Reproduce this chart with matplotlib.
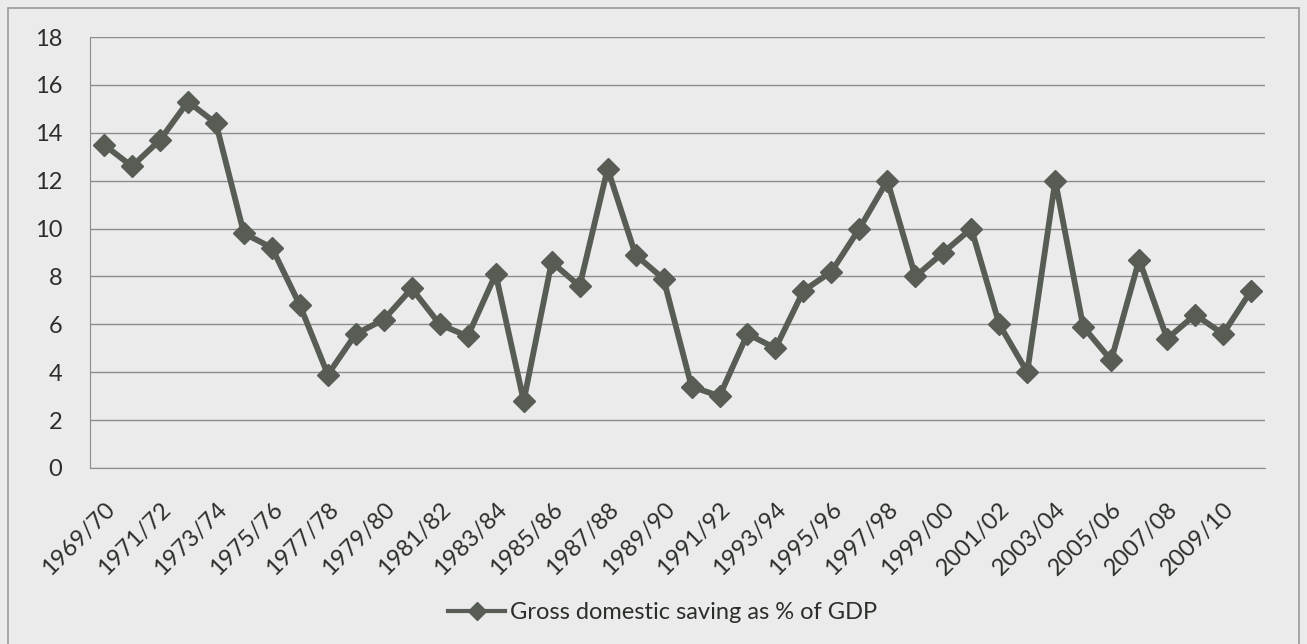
import matplotlib.pyplot as plt
from matplotlib.patches import Rectangle

# fiscal years 1969/70 .. 2010/11
years = ["%d/%02d" % (y, (y + 1) % 100) for y in range(1969, 2011)]
saving = [13.5, 12.6, 13.7, 15.3, 14.4, 9.8, 9.2, 6.8, 3.9, 5.6,
          6.2, 7.5, 6.0, 5.5, 8.1, 2.8, 8.6, 7.6, 12.5, 8.9,
          7.9, 3.4, 3.0, 5.6, 5.0, 7.4, 8.2, 10.0, 12.0, 8.0,
          9.0, 10.0, 6.0, 4.0, 12.0, 5.9, 4.5, 8.7, 5.4, 6.4,
          5.6, 7.4]
series_name = "Gross domestic saving as % of GDP"

plt.rcParams['font.family'] = ['Lato', 'DejaVu Sans']
bg = '#ebebeb'
txt = '#2b2f29'
line_col = '#575c55'

fig = plt.figure(figsize=(13.07, 6.44), dpi=100, facecolor=bg)
ax = fig.add_axes([0.0689, 0.2733, 0.8990, 0.6692], facecolor=bg)

x = list(range(len(years)))
ax.plot(x, saving, color=line_col, lw=4.2, marker='D', markersize=11.5,
        markerfacecolor=line_col, markeredgecolor=line_col, label=series_name)

ax.set_xlim(-0.5, len(years) - 0.5)
ax.set_ylim(0, 18)
ax.set_yticks(range(0, 19, 2))
ax.yaxis.grid(True, color='#8c8c8c', lw=1.0)
ax.set_axisbelow(True)
ax.set_xticks(x[::2])
ax.set_xticklabels(years[::2], rotation=45, ha='right', rotation_mode='anchor')
ax.tick_params(axis='both', length=0, labelsize=17, colors=txt)
ax.tick_params(axis='y', pad=20)
ax.tick_params(axis='x', pad=22)
for s in ['top', 'right']:
    ax.spines[s].set_visible(False)
ax.spines['left'].set_color('#8c8c8c')
ax.spines['bottom'].set_color('#8c8c8c')

leg = fig.legend(loc='center', bbox_to_anchor=(0.507, 0.049), frameon=False,
                 fontsize=17, handlelength=2.4, handletextpad=0.2)
for t in leg.get_texts():
    t.set_color(txt)
for h in leg.legend_handles:
    h.set_linewidth(3.0)
    h.set_markersize(9)

# outer chart border
fig.patches.append(Rectangle((0.006, -0.01), 0.988, 0.998, transform=fig.transFigure,
                             fill=False, edgecolor='#9a9a9a', lw=1.2))

fig.savefig('out.png', dpi=100, facecolor=bg)
